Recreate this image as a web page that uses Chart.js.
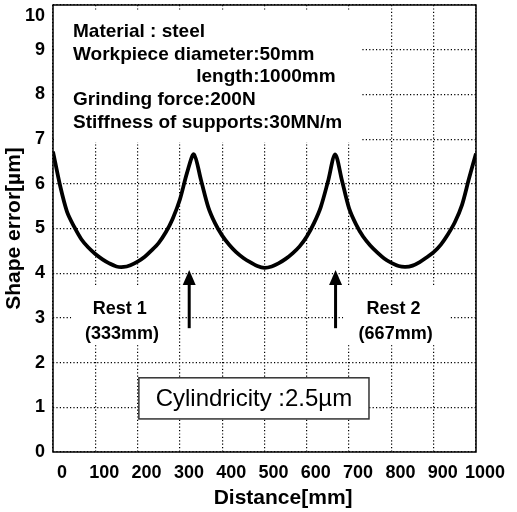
<!DOCTYPE html>
<html>
<head>
<meta charset="utf-8">
<script src="https://cdn.jsdelivr.net/npm/chart.js@4.4.0/dist/chart.umd.min.js"></script>
<style>
    html, body { margin: 0; padding: 0; background: #fff; }
</style>
</head>
<body>
<canvas id="chart" width="517" height="512"></canvas>
<script>
// ---------- datos ----------
const distance = [
    0, 17, 33, 50, 67, 83, 100, 117, 133, 150, 167, 183, 200, 217, 233, 250, 267, 283, 300, 317,
    333, 350, 367, 383, 400, 417, 433, 450, 467, 483, 500, 517, 533, 550, 567, 583, 600, 617, 633, 650,
    667, 683, 700, 717, 733, 750, 767, 783, 800, 817, 833, 850, 867, 883, 900, 917, 933, 950, 967, 983, 1000
];
const shapeError = [
    6.72, 5.95, 5.38, 5.04, 4.76, 4.58, 4.43, 4.31, 4.22, 4.15, 4.14, 4.18, 4.26, 4.37, 4.51, 4.68, 4.92, 5.22, 5.65, 6.25,
    6.66, 6.08, 5.48, 5.12, 4.84, 4.63, 4.47, 4.34, 4.24, 4.16, 4.12, 4.15, 4.22, 4.32, 4.45, 4.60, 4.82, 5.12, 5.48, 6.05,
    6.66, 6.08, 5.45, 5.08, 4.82, 4.62, 4.46, 4.33, 4.23, 4.16, 4.14, 4.17, 4.25, 4.35, 4.47, 4.64, 4.86, 5.14, 5.53, 6.10, 6.68
];

const xTicks = [0, 100, 200, 300, 400, 500, 600, 700, 800, 900, 1000];
const yTicks = [0, 1, 2, 3, 4, 5, 6, 7, 8, 9, 10];

const xLabel = 'Distance[mm]';
const yLabel = 'Shape error[\u00b5m]';

const infoLines = [
    'Material : steel',
    'Workpiece diameter:50mm',
    'length:1000mm',
    'Grinding force:200N',
    'Stiffness of supports:30MN/m'
];

// apoyos: posición de la flecha y textos
const rests = [
    { name: 'Rest 1', pos: '(333mm)', at: 322, textX: 158 },
    { name: 'Rest 2', pos: '(667mm)', at: 668, textX: 805 }
];

const cylindricity = 'Cylindricity :2.5\u00b5m';

const FONT = "'Liberation Sans', Arial, sans-serif";

const ctx = document.getElementById('chart');

// ---------- anotaciones ----------
const notesPlugin = {
    id: 'notes',
    beforeDatasetsDraw(chart) {
        const { ctx: c, chartArea: a, scales: { x, y } } = chart;
        c.save();
        c.fillStyle = '#fff';
        // fondo del bloque de texto superior
        c.fillRect(a.left + 1, a.top + 6, x.getPixelForValue(730) - a.left - 1, y.getPixelForValue(6.93) - a.top - 6);
        // fondo de los textos de apoyo
        c.fillRect(x.getPixelForValue(43), y.getPixelForValue(3.73), x.getPixelForValue(293) - x.getPixelForValue(43), y.getPixelForValue(2.39) - y.getPixelForValue(3.73));
        c.fillRect(x.getPixelForValue(686), y.getPixelForValue(3.73), x.getPixelForValue(939) - x.getPixelForValue(686), y.getPixelForValue(2.39) - y.getPixelForValue(3.73));
        c.restore();
    },
    afterDatasetsDraw(chart) {
        const { ctx: c, chartArea: a, scales: { x, y } } = chart;
        c.save();

        // marco
        c.strokeStyle = '#000';
        c.lineWidth = 1.5;
        c.strokeRect(a.left, a.top, a.right - a.left, a.bottom - a.top);

        // texto superior
        c.fillStyle = '#000';
        c.textBaseline = 'middle';
        c.font = 'bold 19px ' + FONT;
        const tx = a.left + 20;
        const step = 22.6;
        const y0 = a.top + 27;
        c.textAlign = 'left';
        c.fillText(infoLines[0], tx, y0);
        c.fillText(infoLines[1], tx, y0 + step);
        const colonX = tx + c.measureText('Workpiece diameter').width;
        const [lenWord, lenValue] = infoLines[2].split(':');
        c.textAlign = 'right';
        c.fillText(lenWord, colonX, y0 + step * 2);
        c.textAlign = 'left';
        c.fillText(':' + lenValue, colonX, y0 + step * 2);
        c.fillText(infoLines[3], tx, y0 + step * 3);
        c.fillText(infoLines[4], tx, y0 + step * 4);

        // flechas y textos de apoyo
        rests.forEach(r => {
            const px = x.getPixelForValue(r.at);
            const tip = y.getPixelForValue(4.07);
            const tail = y.getPixelForValue(2.77);
            c.lineWidth = 3;
            c.beginPath();
            c.moveTo(px, tail);
            c.lineTo(px, tip + 12);
            c.stroke();
            c.beginPath();
            c.moveTo(px, tip);
            c.lineTo(px - 6.5, tip + 15);
            c.lineTo(px + 6.5, tip + 15);
            c.closePath();
            c.fill();

            c.font = 'bold 18px ' + FONT;
            c.textAlign = 'center';
            c.fillText(r.name, x.getPixelForValue(r.textX), y.getPixelForValue(3.2));
            c.fillText(r.pos, x.getPixelForValue(r.textX + 5), y.getPixelForValue(2.63));
        });

        // caja de cilindricidad
        const bx1 = x.getPixelForValue(203), bx2 = x.getPixelForValue(747);
        const by1 = y.getPixelForValue(1.66), by2 = y.getPixelForValue(0.74);
        c.fillStyle = '#fff';
        c.fillRect(bx1, by1, bx2 - bx1, by2 - by1);
        c.strokeStyle = '#333';
        c.lineWidth = 1.5;
        c.strokeRect(bx1, by1, bx2 - bx1, by2 - by1);
        c.fillStyle = '#000';
        c.font = '24px ' + FONT;
        c.textAlign = 'center';
        c.fillText(cylindricity, (bx1 + bx2) / 2, (by1 + by2) / 2 + 1);

        // título eje x
        c.font = 'bold 21px ' + FONT;
        c.fillText(xLabel, x.getPixelForValue(544), a.bottom + 46);

        c.restore();
    }
};

// ---------- gráfica ----------
const chart = new Chart(ctx, {
    type: 'line',
    data: {
        datasets: [{
            label: 'Shape error',
            data: distance.map((d, i) => ({ x: d, y: shapeError[i] })),
            borderColor: '#000',
            borderWidth: 3.8,
            pointRadius: 0,
            tension: 0.3,
            fill: false
        }]
    },
    options: {
        responsive: false,
        animation: false,
        devicePixelRatio: 1,
        layout: {
            padding: { left: 0, top: 5, right: 41, bottom: 0 }
        },
        plugins: {
            legend: { display: false },
            tooltip: { enabled: false }
        },
        scales: {
            x: {
                type: 'linear',
                min: 0,
                max: 1000,
                afterBuildTicks: (s) => { s.ticks = xTicks.map(v => ({ value: v })); },
                afterFit: (s) => { s.height = 60; s.paddingLeft = 0; s.paddingRight = 0; },
                grid: {
                    color: '#000',
                    lineWidth: 1.2,
                    drawTicks: false
                },
                border: { display: false, dash: [1.2, 2.2] },
                ticks: {
                    autoSkip: false,
                    color: '#000',
                    padding: 10,
                    labelOffset: 9,
                    maxRotation: 0,
                    font: { family: FONT, size: 18, weight: 'bold' },
                    callback: (v) => String(v)
                },
                title: { display: false }
            },
            y: {
                min: 0,
                max: 10,
                afterBuildTicks: (s) => { s.ticks = yTicks.map(v => ({ value: v })); },
                afterFit: (s) => { s.width = 53; s.paddingTop = 0; s.paddingBottom = 0; },
                grid: {
                    color: '#000',
                    lineWidth: 1.2,
                    drawTicks: false
                },
                border: { display: false, dash: [1.2, 2.2] },
                ticks: {
                    autoSkip: false,
                    color: '#000',
                    padding: 8,
                    font: { family: FONT, size: 18, weight: 'bold' },
                    callback: (v) => v === 10 ? ['', '10'] : String(v)
                },
                title: {
                    display: true,
                    text: yLabel,
                    color: '#000',
                    padding: { top: 2, bottom: 0 },
                    font: { family: FONT, size: 21, weight: 'bold' }
                }
            }
        }
    },
    plugins: [notesPlugin]
});
</script>
</body>
</html>
